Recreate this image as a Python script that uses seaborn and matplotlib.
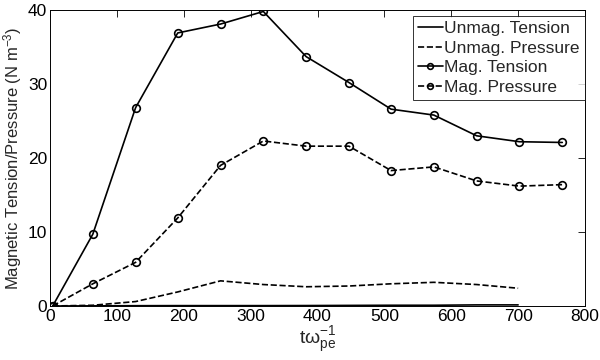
import matplotlib
matplotlib.use("Agg")
import matplotlib.pyplot as plt
import seaborn as sns
import numpy as np

# Data
t_mag = [4, 64, 128, 191, 255, 319, 383, 447, 510, 574, 638, 702, 766]
mag_tension = [0.0, 9.7, 26.8, 36.9, 38.1, 39.8, 33.7, 30.2, 26.6, 25.8, 23.0, 22.2, 22.1]
mag_pressure = [0.0, 3.0, 5.9, 11.9, 19.0, 22.3, 21.6, 21.6, 18.3, 18.8, 16.9, 16.2, 16.4]

t_unmag = [4, 64, 128, 191, 255, 319, 383, 447, 510, 574, 638, 700]
unmag_tension = [0.0, 0.02, 0.04, 0.05, 0.05, 0.05, 0.06, 0.08, 0.1, 0.1, 0.15, 0.15]
unmag_pressure = [0.0, 0.1, 0.6, 1.9, 3.4, 2.9, 2.6, 2.7, 3.0, 3.2, 2.9, 2.4]

x_ticks = [0, 100, 200, 300, 400, 500, 600, 700, 800]
y_ticks = [0, 10, 20, 30, 40]

sns.set_style("white")
plt.rcParams['font.family'] = ['Liberation Sans', 'DejaVu Sans']
plt.rcParams['mathtext.fontset'] = 'custom'
plt.rcParams['mathtext.rm'] = 'Liberation Sans'
plt.rcParams['mathtext.it'] = 'Liberation Sans'

fig = plt.figure(figsize=(6, 3.6), dpi=100)
ax = fig.add_axes([50/600, 1 - 306/360, 535/600, 296/360])

lw = 1.2
ms = 5.5
sns.lineplot(x=t_unmag, y=unmag_tension, ax=ax, color='k', lw=lw,
             label='Unmag. Tension')
sns.lineplot(x=t_unmag, y=unmag_pressure, ax=ax, color='k', lw=lw,
             linestyle='--', dashes=(3, 2.5), label='Unmag. Pressure')
sns.lineplot(x=t_mag, y=mag_tension, ax=ax, color='k', lw=lw, marker='o',
             markersize=ms, markerfacecolor='none', markeredgecolor='k',
             markeredgewidth=1.2, label='Mag. Tension')
sns.lineplot(x=t_mag, y=mag_pressure, ax=ax, color='k', lw=lw, marker='o',
             linestyle='--', dashes=(3, 2.5),
             markersize=ms, markerfacecolor='none', markeredgecolor='k',
             markeredgewidth=1.2, label='Mag. Pressure')

ax.set_xlim(0, 800)
ax.set_ylim(0, 40)
ax.set_xticks(x_ticks)
ax.set_yticks(y_ticks)
ax.tick_params(direction='in', length=5, width=0.6, top=True, right=True,
               labelsize=12.5, colors='k', pad=2)
for s in ax.spines.values():
    s.set_visible(True)
    s.set_color('k')
    s.set_linewidth(0.7)

ax.set_xlabel(r't$\mathregular{\omega_{pe}^{-1}}$', fontsize=14, labelpad=0.5)
ax.set_ylabel(r'Magnetic Tension/Pressure (N m$^{-3}$)', fontsize=12, labelpad=3)

leg = ax.legend(loc='upper right', bbox_to_anchor=(1.0, 1 - 6/296),
                borderaxespad=0, fontsize=12.5, handlelength=1.4,
                handletextpad=0.1, labelspacing=0.25, borderpad=0.3,
                markerscale=0.75,
                frameon=True, fancybox=False)
leg.get_frame().set_edgecolor('k')
leg.get_frame().set_linewidth(0.7)

fig.savefig('out.png', dpi=100)
